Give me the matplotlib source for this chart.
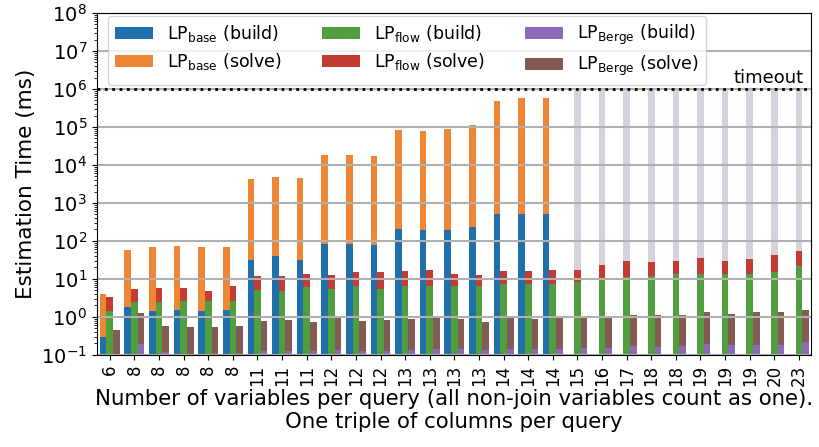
import numpy as np
import matplotlib
matplotlib.use('Agg')
import matplotlib.pyplot as plt
import matplotlib.transforms as mtransforms
from matplotlib.ticker import LogLocator

# number of variables per query (x tick labels)
n_vars = ['6', '8', '8', '8', '8', '8', '11', '11', '11', '12', '12', '12', '13', '13', '13', '13',
          '14', '14', '14', '15', '16', '17', '18', '18', '19', '19', '19', '20', '23']

nan = np.nan
# LP_base: times out (nan) from 15 variables on
base_build = [0.29, 1.83, 1.44, 1.53, 1.44, 1.53, 31.6, 40, 31.6, 83, 83, 78.5, 207, 195, 195, 234,
              514, 514, 514] + [nan] * 10
base_solve = [3.7, 56, 68, 72, 68, 68, 4250, 4790, 4520, 18200, 18200, 17200, 82800, 78300, 88400,
              111800, 482500, 579500, 579500] + [nan] * 10

flow_build = [1.44, 2.48, 2.48, 2.6, 2.6, 2.6, 5.1, 4.8, 6.2, 5.45, 6.5, 5.45, 6.5, 6.5, 6.5, 6.5,
              7.4, 7.4, 7.4, 8.3, 10.3, 11.3, 12, 13.5, 13.5, 13.5, 13.5, 15.3, 22]
flow_solve = [1.9, 3.0, 3.3, 3.2, 2.2, 3.9, 6.9, 7.2, 7.3, 7.3, 8.8, 9.9, 9.7, 10.7, 7.0, 6.2,
              8.8, 8.8, 9.8, 8.9, 13.0, 18.4, 16, 16.2, 22.2, 16.2, 20, 27.5, 32.5]

berge_build = [0.09, 0.195, 0.12, 0.105, 0.105, 0.105, 0.127, 0.127, 0.127, 0.135, 0.127, 0.127,
               0.135, 0.144, 0.144, 0.135, 0.144, 0.144, 0.144, 0.153, 0.153, 0.17, 0.16, 0.17,
               0.195, 0.18, 0.18, 0.18, 0.22]
berge_solve = [0.36, 1.08, 0.46, 0.45, 0.45, 0.48, 0.65, 0.70, 0.61, 0.81, 0.65, 0.70, 0.76, 0.80,
               0.75, 0.61, 0.80, 0.75, 0.80, 0.79, 0.79, 0.96, 0.97, 0.96, 1.16, 1.02, 1.17, 1.17,
               1.31]

timeout = 1e6

plt.rcParams['font.size'] = 13

fig = plt.figure(figsize=(8.2, 4.47), dpi=100)
ax = fig.add_axes([0.118, 0.206, 0.871, 0.765])

x = np.arange(len(n_vars))
w = 0.27

bb = np.array(base_build)
bs = np.array(base_solve)
fb = np.array(flow_build)
fs = np.array(flow_solve)
gb = np.array(berge_build)
gs = np.array(berge_solve)

# grey bars where LP_base ran into the timeout
to = np.isnan(bb)
ax.bar(x[to], timeout, w, color='#d4d2dd')

ax.bar(x - w, bb, w, color='#1f6fab', label=r'LP$_{\mathrm{base}}$ (build)')
ax.bar(x - w, bs, w, bottom=bb, color='#ef8636', label=r'LP$_{\mathrm{base}}$ (solve)')
ax.bar(x, fb, w, color='#519e3e', label=r'LP$_{\mathrm{flow}}$ (build)')
ax.bar(x, fs, w, bottom=fb, color='#c43b33', label=r'LP$_{\mathrm{flow}}$ (solve)')
ax.bar(x + w, gb, w, color='#8d6ab8', label=r'LP$_{\mathrm{Berge}}$ (build)')
ax.bar(x + w, gs, w, bottom=gb, color='#845b53', label=r'LP$_{\mathrm{Berge}}$ (solve)')

ax.axhline(timeout, color='black', ls=':', lw=2, zorder=6)
trans = mtransforms.blended_transform_factory(ax.transAxes, ax.transData)
ax.text(0.99, timeout * 1.12, 'timeout', ha='right', va='bottom', transform=trans)

ax.set_yscale('log')
ax.set_ylim(1e-1, 1e8)
ax.yaxis.set_major_locator(LogLocator(base=10, numticks=20))
ax.yaxis.set_minor_locator(LogLocator(base=10, subs=np.arange(2, 10), numticks=20))
ax.set_xlim(-0.53, len(n_vars) - 0.51)
ax.set_xticks(x)
ax.set_xticklabels(n_vars, rotation=90)
ax.tick_params(axis='x', labelsize=12)
ax.tick_params(axis='y', labelsize=14)
ax.yaxis.grid(True, which='major', color='#b0b0b0', lw=1.5)

ax.set_ylabel('Estimation Time (ms)', fontsize=15.5)
ax.set_xlabel('Number of variables per query (all non-join variables count as one).\n'
              'One triple of columns per query', fontsize=15.3, labelpad=2)

ax.legend(loc='upper left', bbox_to_anchor=(0.012, 1.0), ncol=3, handlelength=2.2,
          columnspacing=2.3, fontsize=12.5, borderaxespad=0.15, labelspacing=0.4)

fig.savefig('out.png', dpi=100)
